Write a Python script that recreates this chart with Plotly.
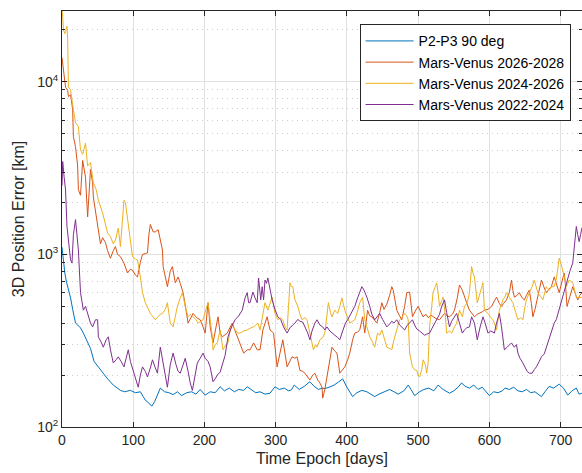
import plotly.graph_objects as go

# ---- data ----
p2p3_days = [0,2,4,6,8,10,12,15,19,22,26,30,36,40,45,50,58,64,72,78,82,88,96,103,110,114,117,120,123,126,130,134,138,144,150,156,162,168,175,182,188,194,201,208,215,222,228,235,242,248,255,260,266,272,278,285,292,299,305,312,318,322,326,333,340,348,354,360,365,369,375,382,388,394,400,404,408,414,421,428,433,439,445,452,460,466,472,480,486,490,495,502,508,515,522,528,535,544,550,556,561,566,572,578,584,590,596,600,606,612,618,622,628,634,640,646,652,658,664,668,673,678,684,690,698,704,710,716,722,726,730]
p2p3_vals = [1100,900,780,700,650,600,560,480,400,390,375,350,307,285,240,225,205,190,175,168,163,160,163,158,160,150,143,140,135,132,140,152,168,160,158,154,160,152,158,160,155,165,153,160,158,171,162,168,160,165,163,171,165,158,160,155,157,171,165,168,162,164,175,165,172,183,172,165,168,167,170,175,182,190,170,160,150,158,163,160,155,150,155,160,165,160,155,162,175,165,152,160,165,168,162,175,165,157,162,170,180,172,168,175,165,170,158,152,160,158,162,168,165,170,162,160,165,158,160,155,150,160,172,168,177,168,153,162,168,155,157]

mv2628_days = [0,2,5,8,9,12,15,16,19,22,23,26,29,33,36,40,43,44,47,50,54,57,61,64,68,72,75,78,82,87,92,96,99,103,106,110,113,117,120,122,124,128,131,135,138,141,142,145,148,152,155,159,163,166,170,174,177,181,184,189,194,198,201,205,208,212,216,219,222,225,232,239,242,246,250,255,260,264,269,274,278,282,288,292,297,302,306,310,316,320,323,327,330,334,338,341,345,348,352,355,359,362,365,366,369,372,376,379,383,386,390,394,397,401,404,408,411,415,418,422,425,429,432,435,438,442,446,449,452,456,460,463,465,468,470,474,477,481,484,488,490,492,496,500,504,507,511,514,518,521,525,530,534,537,541,544,548,551,555,558,562,565,568,572,576,579,583,586,590,593,598,603,606,610,614,617,620,624,628,631,633,635,639,642,646,649,652,656,659,661,664,666,670,673,677,680,684,687,691,694,698,702,705,707,709,713,717,720,724,727,730]
mv2628_vals = [13800,12000,9300,8900,8200,8400,6900,4800,4200,3250,2370,2200,3500,2800,1650,3100,2600,2150,1800,1550,1150,1250,1170,1050,950,1050,1110,1000,970,890,780,820,810,760,740,900,1000,1010,1020,1300,1490,1350,1350,1390,1200,1060,850,750,650,800,850,685,740,680,600,480,400,430,455,430,418,380,350,525,380,307,380,435,350,333,350,400,370,333,300,268,280,280,307,280,280,365,435,365,350,223,268,320,223,240,255,250,255,213,210,205,195,187,200,205,187,180,170,147,165,195,250,290,275,268,205,215,223,245,268,320,350,355,365,435,350,475,440,435,420,400,460,525,480,515,580,650,620,520,475,440,418,500,600,605,520,435,470,500,460,435,450,430,445,435,425,418,440,455,440,435,450,475,560,665,620,560,525,475,450,435,450,455,465,475,480,500,530,565,520,500,520,545,600,710,620,565,580,600,560,545,580,620,520,435,480,525,620,710,640,600,630,650,740,680,600,700,780,650,500,570,650,600,545,580,600]

mv2426_days = [0,1,2,4,5,7,8,9,12,14,16,19,23,26,29,33,36,40,44,48,51,57,61,64,68,72,75,79,82,85,87,89,92,96,99,103,106,110,113,117,124,131,135,138,141,145,148,152,156,159,162,166,169,173,177,180,184,188,191,195,198,202,205,208,211,212,215,218,222,226,230,233,236,239,243,247,250,255,260,265,269,272,275,278,281,285,289,292,295,299,303,307,310,313,316,318,320,322,324,327,331,334,337,341,344,348,351,353,356,358,362,366,369,372,374,377,379,383,387,390,393,397,401,404,408,411,415,418,422,425,428,432,436,439,443,446,449,452,456,460,463,466,470,474,477,481,484,486,488,490,492,495,498,500,502,505,507,510,512,514,516,519,521,524,526,528,530,533,535,538,540,544,547,551,554,558,562,565,569,572,575,577,579,583,586,589,591,593,598,602,605,608,610,614,619,622,624,628,633,637,640,644,647,650,652,656,660,663,666,668,672,675,680,684,687,691,694,696,698,701,703,706,708,712,717,720,722,726,730]
mv2426_vals = [26000,24000,20000,19000,19500,21000,17500,9300,9000,7600,6900,5800,5500,4030,3800,4400,3250,3400,2600,2370,2060,1740,1520,1330,1270,1150,1210,1420,1110,1700,2060,2000,1590,1170,970,940,930,740,600,525,455,418,435,450,455,480,525,400,380,440,500,560,600,500,435,450,435,420,400,410,418,480,525,420,333,280,300,307,365,280,300,307,360,390,365,350,350,360,365,375,380,390,400,365,435,525,475,520,565,455,418,430,418,380,365,500,685,650,650,545,500,450,418,430,418,350,300,280,300,290,320,330,350,450,525,460,435,475,455,500,560,475,430,400,410,418,470,525,565,418,380,333,310,290,350,340,365,330,290,285,280,320,365,418,430,455,440,418,268,240,223,215,213,200,195,215,245,230,205,235,380,500,600,650,685,600,500,540,565,450,350,360,350,380,400,475,435,500,525,600,850,780,740,525,580,620,685,475,455,430,418,390,365,475,545,570,600,565,525,460,418,430,418,500,545,600,650,710,640,600,570,545,650,620,650,650,720,850,950,870,810,720,650,710,685,600,565,560,565]

mv2224_days = [0,1,3,5,7,8,10,12,14,16,19,21,23,26,30,33,37,40,43,47,50,51,55,58,62,65,68,72,76,79,83,87,90,93,96,100,104,107,110,113,117,120,124,127,131,134,138,141,145,148,152,156,160,163,166,170,173,177,180,183,187,190,194,198,201,205,208,212,215,218,222,226,229,233,238,243,248,253,257,260,262,264,268,271,274,276,279,281,283,285,287,289,292,295,299,303,307,311,316,320,324,327,331,334,338,341,345,348,351,355,358,362,366,369,372,376,379,383,387,390,394,398,401,405,408,411,415,418,421,424,428,432,435,439,443,446,450,453,456,460,463,466,470,474,477,481,484,488,492,495,498,502,505,509,512,516,519,523,526,530,533,537,540,544,547,551,554,558,562,565,568,572,575,579,583,587,591,594,598,602,607,610,614,617,621,625,628,631,635,638,640,643,647,650,653,656,660,663,666,670,673,677,680,684,687,691,694,698,701,705,709,713,717,719,722,724,726,728,730]
mv2224_vals = [2500,3450,2800,2360,1450,1330,1210,930,890,1300,1590,1300,1060,600,475,500,435,400,380,418,418,333,310,290,320,333,280,235,245,255,240,223,250,280,240,213,190,170,200,223,210,195,220,245,220,205,290,250,200,170,230,268,230,210,205,230,250,210,180,163,200,235,250,268,250,240,223,183,190,200,208,235,260,333,380,418,440,475,560,600,525,525,605,560,525,730,545,650,545,710,680,730,620,545,480,435,420,380,350,375,390,400,420,410,405,380,350,320,360,400,418,390,380,365,380,360,350,340,330,320,360,400,418,450,475,500,560,600,650,620,565,500,450,418,440,455,420,400,380,395,410,400,418,390,380,365,385,400,418,390,370,360,350,340,345,350,370,400,418,450,500,545,460,380,410,440,455,400,350,365,375,380,435,400,320,380,435,400,350,360,350,400,455,380,280,290,300,307,290,300,268,250,235,220,210,205,205,215,223,240,255,265,290,320,360,400,420,480,545,620,710,800,890,1100,1450,1300,1185,1300,1430]

series_names = ["P2-P3 90 deg", "Mars-Venus 2026-2028", "Mars-Venus 2024-2026", "Mars-Venus 2022-2024"]
series_colors = ["#0072BD", "#D95319", "#EDB120", "#7E2F8E"]

x_ticks = [0, 100, 200, 300, 400, 500, 600, 700]
y_major = [100, 1000, 10000]
y_major_text = ["10<sup>2</sup>", "10<sup>3</sup>", "10<sup>4</sup>"]
y_minor = [m * d for d in (100, 1000, 10000) for m in range(2, 10)]

# ---- figure ----
fig = go.Figure()
data = [(p2p3_days, p2p3_vals), (mv2628_days, mv2628_vals),
        (mv2426_days, mv2426_vals), (mv2224_days, mv2224_vals)]
for (d, v), name, col in zip(data, series_names, series_colors):
    fig.add_trace(go.Scatter(x=d, y=v, mode="lines", name=name,
                             line=dict(color=col, width=1)))

axis_col = "#262626"
font_family = "Liberation Sans, Arial, Helvetica, sans-serif"

fig.update_layout(
    width=582, height=473,
    margin=dict(l=62, r=0, t=11, b=46),
    paper_bgcolor="white", plot_bgcolor="white",
    font=dict(family=font_family, size=14, color=axis_col),
    showlegend=True,
    legend=dict(x=0.978, y=0.968, xanchor="right", yanchor="top",
                bgcolor="white", bordercolor=axis_col, borderwidth=1,
                font=dict(family=font_family, size=14, color="black"),
                tracegroupgap=0, itemwidth=48),
)

fig.update_xaxes(
    range=[0, 730], tickvals=x_ticks, ticks="inside", ticklen=5,
    tickcolor=axis_col, showline=True, linecolor=axis_col, linewidth=1,
    mirror="ticks", showgrid=True, gridcolor="#e0e0e0", gridwidth=1,
    zeroline=False, tickfont=dict(family=font_family, size=14),
    title=dict(text="Time Epoch [days]", font=dict(family=font_family, size=16), standoff=6),
)
fig.update_yaxes(
    type="log", range=[2, 4.41], tickvals=y_major, ticktext=y_major_text,
    ticks="inside", ticklen=5, tickcolor=axis_col, showline=True,
    linecolor=axis_col, linewidth=1, mirror="ticks", showgrid=True,
    gridcolor="#e0e0e0", gridwidth=1, zeroline=False,
    tickfont=dict(family=font_family, size=14),
    minor=dict(tickmode="array", tickvals=y_minor, ticks="inside", ticklen=3,
               tickcolor=axis_col, showgrid=True, gridcolor="#cfcfcf",
               griddash="1px,4px", gridwidth=1),
    title=dict(text="3D Position Error [km]", font=dict(family=font_family, size=16), standoff=8),
)

fig.write_html("out.html")
